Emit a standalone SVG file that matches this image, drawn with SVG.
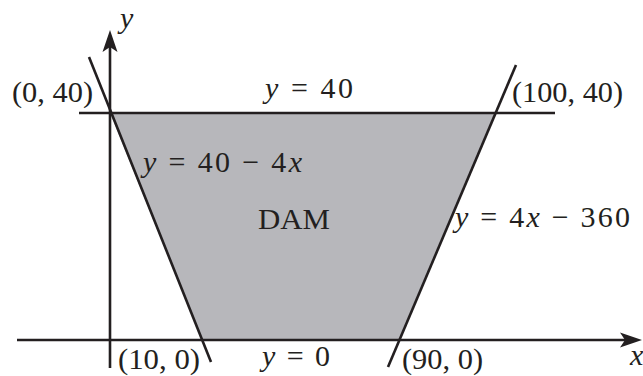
<svg xmlns="http://www.w3.org/2000/svg" width="643" height="376" viewBox="0 0 643 376">
<style>
.ln{stroke:#231f20;stroke-width:2.6;fill:none;stroke-linecap:butt}
.t{font-family:"Liberation Serif","DejaVu Serif",serif;font-size:30px;fill:#231f20}
.i{font-style:italic}
.ah{fill:#231f20;stroke:none}
</style>
<rect width="643" height="376" fill="#ffffff"/>
<g id="dam">
<polygon points="110,113 496,113 400,340 202,340" fill="#b7b7bb"/>
<text class="t" x="258" y="229" textLength="72" lengthAdjust="spacingAndGlyphs">DAM</text>
</g>
<g id="connectors">
<line class="ln" x1="110" y1="368" x2="110" y2="46"/>
<polygon class="ah" points="110,30 117.5,52 110,47 102.5,52"/>
<line class="ln" x1="17" y1="340" x2="626" y2="340"/>
<polygon class="ah" points="642,340 620,347.5 625,340 620,332.5"/>
<line class="ln" x1="79" y1="113" x2="555" y2="113"/>
<line class="ln" x1="89" y1="57" x2="211" y2="362"/>
<line class="ln" x1="516" y1="65" x2="388" y2="367"/>
</g>
<g id="axis-y"><text class="t i" x="120" y="28">y</text></g>
<g id="axis-x"><text class="t i" x="630" y="365">x</text></g>
<g id="p0-40"><text class="t" x="12" y="102" textLength="81" lengthAdjust="spacingAndGlyphs">(0, 40)</text></g>
<g id="p100-40"><text class="t" x="512" y="102" textLength="111" lengthAdjust="spacingAndGlyphs">(100, 40)</text></g>
<g id="p10-0"><text class="t" x="118" y="369" textLength="82" lengthAdjust="spacingAndGlyphs">(10, 0)</text></g>
<g id="p90-0"><text class="t" x="402" y="369" textLength="81" lengthAdjust="spacingAndGlyphs">(90, 0)</text></g>
<g id="l-top"><text class="t" x="265" y="98" textLength="88" lengthAdjust="spacing"><tspan class="i">y</tspan> = 40</text></g>
<g id="l-bottom"><text class="t" x="262" y="366" textLength="68" lengthAdjust="spacing"><tspan class="i">y</tspan> = 0</text></g>
<g id="l-left"><text class="t" x="143" y="172" textLength="159" lengthAdjust="spacing"><tspan class="i">y</tspan> = 40 − 4<tspan class="i">x</tspan></text></g>
<g id="l-right"><text class="t" x="455" y="227" textLength="175" lengthAdjust="spacing"><tspan class="i">y</tspan> = 4<tspan class="i">x</tspan> − 360</text></g>
</svg>
